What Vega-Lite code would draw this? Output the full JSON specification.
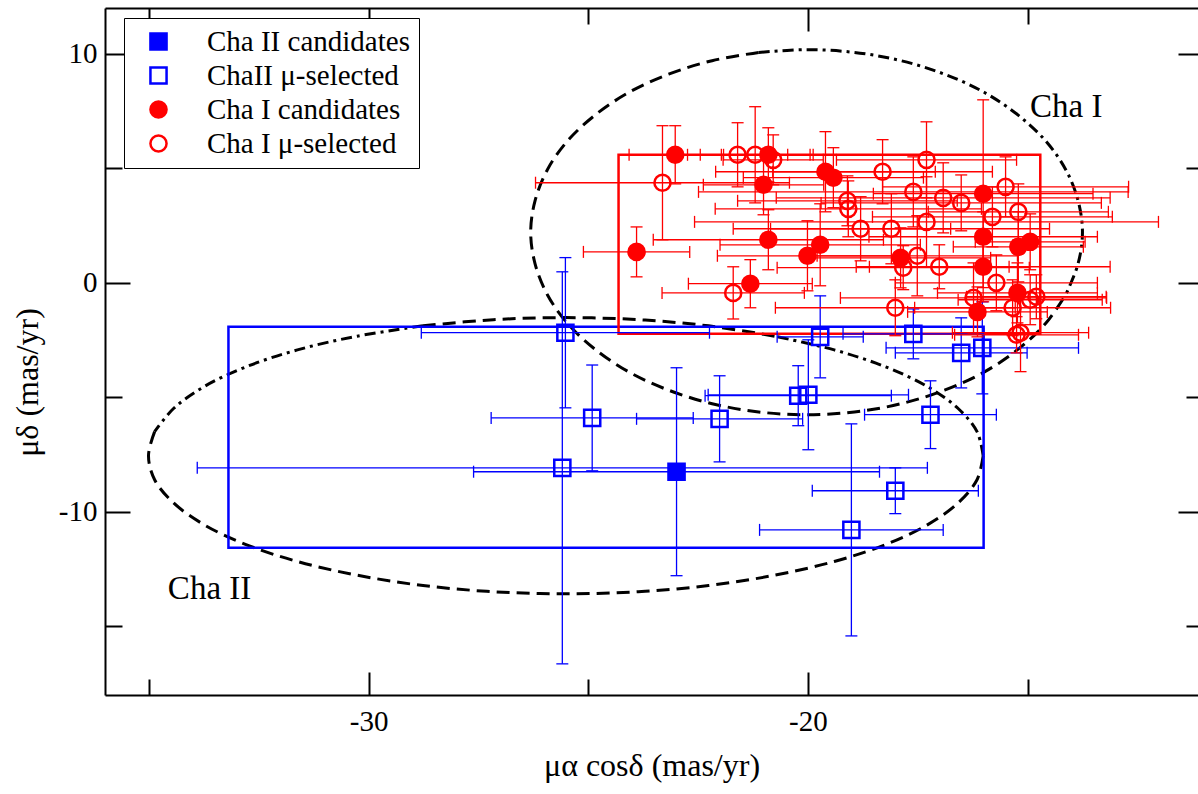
{
  "$schema": "https://vega.github.io/schema/vega-lite/v6.json",
  "width": 1093,
  "height": 687,
  "autosize": {"type": "none"},
  "padding": {"left": 105, "top": 8, "right": 0, "bottom": 99},
  "background": "white",
  "config": {
    "view": {"stroke": null},
    "font": "Liberation Serif",
    "axis": {
      "grid": false,
      "labelFont": "Liberation Serif",
      "labelFontSize": 28,
      "labelColor": "black",
      "tickColor": "black",
      "tickWidth": 2,
      "domainColor": "black",
      "domainWidth": 2,
      "titleFont": "Liberation Serif",
      "titleFontSize": 32,
      "titleFontWeight": "normal",
      "titleColor": "black"
    },
    "legend": {"labelFont": "Liberation Serif"},
    "text": {"font": "Liberation Serif"}
  },
  "datasets": {
    "pts": [
      {"region": "II", "grp": "ChaII μ-selected", "x": -25.52, "y": -2.18, "xlo": -28.80, "xhi": -22.24, "ylo": -5.46, "yhi": 1.10},
      {"region": "II", "grp": "ChaII μ-selected", "x": -24.91, "y": -5.90, "xlo": -27.21, "xhi": -22.61, "ylo": -8.21, "yhi": -3.59},
      {"region": "II", "grp": "ChaII μ-selected", "x": -25.59, "y": -8.08, "xlo": -33.90, "xhi": -17.28, "ylo": -16.64, "yhi": 0.48},
      {"region": "II", "grp": "Cha II candidates", "x": -22.99, "y": -8.25, "xlo": -27.61, "xhi": -18.37, "ylo": -12.79, "yhi": -3.71},
      {"region": "II", "grp": "ChaII μ-selected", "x": -22.01, "y": -5.94, "xlo": -23.90, "xhi": -20.12, "ylo": -7.82, "yhi": -4.06},
      {"region": "II", "grp": "ChaII μ-selected", "x": -20.22, "y": -4.93, "xlo": -22.34, "xhi": -18.10, "ylo": -6.24, "yhi": -3.62},
      {"region": "II", "grp": "ChaII μ-selected", "x": -19.99, "y": -4.89, "xlo": -22.27, "xhi": -17.71, "ylo": -7.29, "yhi": -2.49},
      {"region": "II", "grp": "ChaII μ-selected", "x": -19.72, "y": -2.36, "xlo": -20.70, "xhi": -18.74, "ylo": -4.15, "yhi": -0.57},
      {"region": "II", "grp": "ChaII μ-selected", "x": -17.60, "y": -2.23, "xlo": -19.20, "xhi": -16.00, "ylo": -3.32, "yhi": -1.14},
      {"region": "II", "grp": "ChaII μ-selected", "x": -16.51, "y": -3.06, "xlo": -18.01, "xhi": -15.01, "ylo": -4.59, "yhi": -1.53},
      {"region": "II", "grp": "ChaII μ-selected", "x": -16.03, "y": -2.84, "xlo": -18.22, "xhi": -13.84, "ylo": -4.85, "yhi": -0.83},
      {"region": "II", "grp": "ChaII μ-selected", "x": -17.21, "y": -5.76, "xlo": -18.71, "xhi": -15.71, "ylo": -7.24, "yhi": -4.28},
      {"region": "II", "grp": "ChaII μ-selected", "x": -18.01, "y": -9.08, "xlo": -19.90, "xhi": -16.12, "ylo": -10.08, "yhi": -8.08},
      {"region": "II", "grp": "ChaII μ-selected", "x": -19.01, "y": -10.79, "xlo": -21.10, "xhi": -16.92, "ylo": -15.42, "yhi": -6.16},

      {"region": "I", "grp": "Cha I μ-selected", "x": -23.31, "y": 4.37, "xlo": -26.20, "xhi": -20.42, "ylo": 1.88, "yhi": 6.86},
      {"region": "I", "grp": "Cha I μ-selected", "x": -21.70, "y": -0.44, "xlo": -23.32, "xhi": -20.08, "ylo": -1.58, "yhi": 0.70},
      {"region": "I", "grp": "Cha I μ-selected", "x": -21.60, "y": 5.59, "xlo": -22.74, "xhi": -20.46, "ylo": 4.19, "yhi": 6.99},
      {"region": "I", "grp": "Cha I μ-selected", "x": -21.20, "y": 5.59, "xlo": -22.45, "xhi": -19.95, "ylo": 3.49, "yhi": 7.69},
      {"region": "I", "grp": "Cha I μ-selected", "x": -20.79, "y": 5.37, "xlo": -21.93, "xhi": -19.65, "ylo": 4.28, "yhi": 6.46},
      {"region": "I", "grp": "Cha I μ-selected", "x": -19.10, "y": 3.58, "xlo": -21.60, "xhi": -16.60, "ylo": 2.49, "yhi": 4.67},
      {"region": "I", "grp": "Cha I μ-selected", "x": -19.08, "y": 3.23, "xlo": -22.11, "xhi": -16.05, "ylo": 2.01, "yhi": 4.45},
      {"region": "I", "grp": "Cha I μ-selected", "x": -18.80, "y": 2.36, "xlo": -20.85, "xhi": -16.75, "ylo": 0.96, "yhi": 3.76},
      {"region": "I", "grp": "Cha I μ-selected", "x": -18.30, "y": 4.85, "xlo": -20.80, "xhi": -15.80, "ylo": 3.45, "yhi": 6.25},
      {"region": "I", "grp": "Cha I μ-selected", "x": -18.10, "y": 2.36, "xlo": -21.70, "xhi": -14.50, "ylo": 0.83, "yhi": 3.89},
      {"region": "I", "grp": "Cha I μ-selected", "x": -18.01, "y": -1.09, "xlo": -20.74, "xhi": -15.28, "ylo": -2.31, "yhi": 0.13},
      {"region": "I", "grp": "Cha I μ-selected", "x": -17.83, "y": 0.66, "xlo": -20.70, "xhi": -14.96, "ylo": -0.30, "yhi": 1.62},
      {"region": "I", "grp": "Cha I μ-selected", "x": -17.60, "y": 3.97, "xlo": -22.49, "xhi": -12.71, "ylo": 2.44, "yhi": 5.50},
      {"region": "I", "grp": "Cha I μ-selected", "x": -17.51, "y": 1.18, "xlo": -19.79, "xhi": -15.23, "ylo": -0.57, "yhi": 2.93},
      {"region": "I", "grp": "Cha I μ-selected", "x": -17.30, "y": 5.37, "xlo": -19.35, "xhi": -15.25, "ylo": 3.71, "yhi": 7.03},
      {"region": "I", "grp": "Cha I μ-selected", "x": -17.30, "y": 2.66, "xlo": -22.58, "xhi": -12.02, "ylo": 0.69, "yhi": 4.63},
      {"region": "I", "grp": "Cha I μ-selected", "x": -17.01, "y": 0.70, "xlo": -18.60, "xhi": -15.42, "ylo": -0.26, "yhi": 1.66},
      {"region": "I", "grp": "Cha I μ-selected", "x": -16.92, "y": 3.71, "xlo": -20.72, "xhi": -13.12, "ylo": 2.18, "yhi": 5.24},
      {"region": "I", "grp": "Cha I μ-selected", "x": -16.51, "y": 3.49, "xlo": -19.70, "xhi": -13.32, "ylo": 2.27, "yhi": 4.71},
      {"region": "I", "grp": "Cha I μ-selected", "x": -16.23, "y": -0.66, "xlo": -19.26, "xhi": -13.20, "ylo": -2.19, "yhi": 0.87},
      {"region": "I", "grp": "Cha I μ-selected", "x": -15.80, "y": 2.88, "xlo": -18.53, "xhi": -13.07, "ylo": 1.57, "yhi": 4.19},
      {"region": "I", "grp": "Cha I μ-selected", "x": -15.71, "y": 0.00, "xlo": -18.01, "xhi": -13.41, "ylo": -1.22, "yhi": 1.22},
      {"region": "I", "grp": "Cha I μ-selected", "x": -15.50, "y": 4.19, "xlo": -18.30, "xhi": -12.70, "ylo": 2.88, "yhi": 5.50},
      {"region": "I", "grp": "Cha I μ-selected", "x": -15.34, "y": -1.09, "xlo": -17.57, "xhi": -13.11, "ylo": -2.31, "yhi": 0.13},
      {"region": "I", "grp": "Cha I μ-selected", "x": -15.21, "y": 3.10, "xlo": -17.26, "xhi": -13.16, "ylo": 1.88, "yhi": 4.32},
      {"region": "I", "grp": "Cha I μ-selected", "x": -14.94, "y": -0.74, "xlo": -16.58, "xhi": -13.30, "ylo": -1.83, "yhi": 0.35},
      {"region": "I", "grp": "Cha I μ-selected", "x": -14.80, "y": -0.61, "xlo": -16.39, "xhi": -13.21, "ylo": -1.57, "yhi": 0.35},
      {"region": "I", "grp": "Cha I μ-selected", "x": -15.16, "y": -2.18, "xlo": -16.71, "xhi": -13.61, "ylo": -3.88, "yhi": -0.48},
      {"region": "I", "grp": "Cha I μ-selected", "x": -15.25, "y": -2.27, "xlo": -16.66, "xhi": -13.84, "ylo": -3.06, "yhi": -1.48},

      {"region": "I", "grp": "Cha I candidates", "x": -23.90, "y": 1.35, "xlo": -25.11, "xhi": -22.69, "ylo": 0.26, "yhi": 2.44},
      {"region": "I", "grp": "Cha I candidates", "x": -23.02, "y": 5.59, "xlo": -24.07, "xhi": -21.97, "ylo": 4.32, "yhi": 6.86},
      {"region": "I", "grp": "Cha I candidates", "x": -21.31, "y": -0.04, "xlo": -22.72, "xhi": -19.90, "ylo": -1.09, "yhi": 1.01},
      {"region": "I", "grp": "Cha I candidates", "x": -21.01, "y": 4.28, "xlo": -22.38, "xhi": -19.64, "ylo": 2.97, "yhi": 5.59},
      {"region": "I", "grp": "Cha I candidates", "x": -20.90, "y": 5.59, "xlo": -21.92, "xhi": -19.88, "ylo": 4.41, "yhi": 6.77},
      {"region": "I", "grp": "Cha I candidates", "x": -20.90, "y": 1.88, "xlo": -23.52, "xhi": -18.28, "ylo": 0.57, "yhi": 3.19},
      {"region": "I", "grp": "Cha I candidates", "x": -20.01, "y": 1.18, "xlo": -22.06, "xhi": -17.96, "ylo": -0.35, "yhi": 2.71},
      {"region": "I", "grp": "Cha I candidates", "x": -19.72, "y": 1.66, "xlo": -22.00, "xhi": -17.44, "ylo": -0.13, "yhi": 3.45},
      {"region": "I", "grp": "Cha I candidates", "x": -19.60, "y": 4.85, "xlo": -22.10, "xhi": -17.10, "ylo": 3.10, "yhi": 6.60},
      {"region": "I", "grp": "Cha I candidates", "x": -19.42, "y": 4.59, "xlo": -21.47, "xhi": -17.37, "ylo": 3.28, "yhi": 5.90},
      {"region": "I", "grp": "Cha I candidates", "x": -17.89, "y": 1.09, "xlo": -19.94, "xhi": -15.84, "ylo": -0.22, "yhi": 2.40},
      {"region": "I", "grp": "Cha I candidates", "x": -16.01, "y": 3.89, "xlo": -18.51, "xhi": -13.51, "ylo": -0.21, "yhi": 7.99},
      {"region": "I", "grp": "Cha I candidates", "x": -16.01, "y": 2.01, "xlo": -18.61, "xhi": -13.41, "ylo": 0.92, "yhi": 3.10},
      {"region": "I", "grp": "Cha I candidates", "x": -16.01, "y": 0.70, "xlo": -18.90, "xhi": -13.12, "ylo": -0.83, "yhi": 2.23},
      {"region": "I", "grp": "Cha I candidates", "x": -16.14, "y": -1.27, "xlo": -17.73, "xhi": -14.55, "ylo": -2.36, "yhi": -0.18},
      {"region": "I", "grp": "Cha I candidates", "x": -15.23, "y": -0.44, "xlo": -17.05, "xhi": -13.41, "ylo": -1.75, "yhi": 0.87},
      {"region": "I", "grp": "Cha I candidates", "x": -15.21, "y": 1.57, "xlo": -16.69, "xhi": -13.73, "ylo": 0.04, "yhi": 3.10},
      {"region": "I", "grp": "Cha I candidates", "x": -14.94, "y": 1.79, "xlo": -16.19, "xhi": -13.69, "ylo": 0.57, "yhi": 3.01}
    ],
    "rects": [
      {"region": "II", "x1": -33.19, "x2": -16.00, "y1": -11.57, "y2": -1.92},
      {"region": "I", "x1": -24.31, "x2": -14.71, "y1": -2.23, "y2": 5.59}
    ],
    "ellD": [
      {"seg": "I-d", "o": 0, "x": -21.12, "y": 10.06},
      {"seg": "I-d", "o": 1, "x": -22.18, "y": 9.70},
      {"seg": "I-d", "o": 2, "x": -23.17, "y": 9.11},
      {"seg": "I-d", "o": 3, "x": -24.07, "y": 8.32},
      {"seg": "I-d", "o": 4, "x": -24.84, "y": 7.33},
      {"seg": "I-d", "o": 5, "x": -25.47, "y": 6.20},
      {"seg": "I-d", "o": 6, "x": -25.93, "y": 4.94},
      {"seg": "I-d", "o": 7, "x": -26.21, "y": 3.59},
      {"seg": "I-d", "o": 8, "x": -26.31, "y": 2.21},
      {"seg": "I-d", "o": 9, "x": -26.21, "y": 0.83},
      {"seg": "I-d", "o": 10, "x": -25.93, "y": -0.52},
      {"seg": "I-d", "o": 11, "x": -25.47, "y": -1.78},
      {"seg": "I-d", "o": 12, "x": -24.84, "y": -2.91},
      {"seg": "I-d", "o": 13, "x": -24.07, "y": -3.90},
      {"seg": "I-d", "o": 14, "x": -23.17, "y": -4.69},
      {"seg": "I-d", "o": 15, "x": -22.18, "y": -5.28},
      {"seg": "I-d", "o": 16, "x": -21.12, "y": -5.64},
      {"seg": "I-d", "o": 17, "x": -20.03, "y": -5.76},
      {"seg": "I-d", "o": 18, "x": -18.94, "y": -5.64},
      {"seg": "I-d", "o": 19, "x": -17.88, "y": -5.28},
      {"seg": "I-d", "o": 20, "x": -16.89, "y": -4.69},
      {"seg": "I-d", "o": 21, "x": -15.99, "y": -3.90},
      {"seg": "I-d", "o": 22, "x": -15.22, "y": -2.91},
      {"seg": "I-d", "o": 23, "x": -14.59, "y": -1.78},
      {"seg": "I-d", "o": 24, "x": -14.13, "y": -0.52},
      {"seg": "II-d1", "o": 0, "x": -20.76, "y": -2.33},
      {"seg": "II-d1", "o": 1, "x": -22.26, "y": -1.88},
      {"seg": "II-d1", "o": 2, "x": -23.86, "y": -1.61},
      {"seg": "II-d1", "o": 3, "x": -25.51, "y": -1.52},
      {"seg": "II-d1", "o": 4, "x": -27.16, "y": -1.61},
      {"seg": "II-d1", "o": 5, "x": -28.76, "y": -1.88},
      {"seg": "II-d2", "o": 0, "x": -34.87, "y": -6.50},
      {"seg": "II-d2", "o": 1, "x": -35.01, "y": -7.55},
      {"seg": "II-d2", "o": 2, "x": -34.87, "y": -8.60},
      {"seg": "II-d2", "o": 3, "x": -34.44, "y": -9.61},
      {"seg": "II-d2", "o": 4, "x": -33.74, "y": -10.57},
      {"seg": "II-d2", "o": 5, "x": -32.79, "y": -11.43},
      {"seg": "II-d2", "o": 6, "x": -31.62, "y": -12.17},
      {"seg": "II-d2", "o": 7, "x": -30.26, "y": -12.77},
      {"seg": "II-d2", "o": 8, "x": -28.76, "y": -13.22},
      {"seg": "II-d2", "o": 9, "x": -27.16, "y": -13.49},
      {"seg": "II-d2", "o": 10, "x": -25.51, "y": -13.58},
      {"seg": "II-d2", "o": 11, "x": -23.86, "y": -13.49},
      {"seg": "II-d2", "o": 12, "x": -22.26, "y": -13.22},
      {"seg": "II-d2", "o": 13, "x": -20.76, "y": -12.77},
      {"seg": "II-d2", "o": 14, "x": -19.40, "y": -12.17},
      {"seg": "II-d2", "o": 15, "x": -18.23, "y": -11.43},
      {"seg": "II-d2", "o": 16, "x": -17.28, "y": -10.57},
      {"seg": "II-d2", "o": 17, "x": -16.58, "y": -9.61},
      {"seg": "II-d2", "o": 18, "x": -16.15, "y": -8.60},
      {"seg": "II-d2", "o": 19, "x": -16.01, "y": -7.55}
    ],
    "ellDD": [
      {"seg": "I-dd", "o": 0, "x": -21.12, "y": 10.06},
      {"seg": "I-dd", "o": 1, "x": -20.03, "y": 10.18},
      {"seg": "I-dd", "o": 2, "x": -18.94, "y": 10.06},
      {"seg": "I-dd", "o": 3, "x": -17.88, "y": 9.70},
      {"seg": "I-dd", "o": 4, "x": -16.89, "y": 9.11},
      {"seg": "I-dd", "o": 5, "x": -15.99, "y": 8.32},
      {"seg": "I-dd", "o": 6, "x": -15.22, "y": 7.33},
      {"seg": "I-dd", "o": 7, "x": -14.59, "y": 6.20},
      {"seg": "I-dd", "o": 8, "x": -14.13, "y": 4.94},
      {"seg": "I-dd", "o": 9, "x": -13.85, "y": 3.59},
      {"seg": "I-dd", "o": 10, "x": -13.75, "y": 2.21},
      {"seg": "I-dd", "o": 11, "x": -13.85, "y": 0.83},
      {"seg": "I-dd", "o": 12, "x": -14.13, "y": -0.52},
      {"seg": "II-dd1", "o": 0, "x": -16.01, "y": -7.55},
      {"seg": "II-dd1", "o": 1, "x": -16.15, "y": -6.50},
      {"seg": "II-dd1", "o": 2, "x": -16.58, "y": -5.49},
      {"seg": "II-dd1", "o": 3, "x": -17.28, "y": -4.53},
      {"seg": "II-dd1", "o": 4, "x": -18.23, "y": -3.67},
      {"seg": "II-dd1", "o": 5, "x": -19.40, "y": -2.93},
      {"seg": "II-dd1", "o": 6, "x": -20.76, "y": -2.33},
      {"seg": "II-dd2", "o": 0, "x": -28.76, "y": -1.88},
      {"seg": "II-dd2", "o": 1, "x": -30.26, "y": -2.33},
      {"seg": "II-dd2", "o": 2, "x": -31.62, "y": -2.93},
      {"seg": "II-dd2", "o": 3, "x": -32.79, "y": -3.67},
      {"seg": "II-dd2", "o": 4, "x": -33.74, "y": -4.53},
      {"seg": "II-dd2", "o": 5, "x": -34.44, "y": -5.49},
      {"seg": "II-dd2", "o": 6, "x": -34.87, "y": -6.50}
    ],
    "labels": [
      {"text": "Cha I", "x": -14.12, "y": 7.25},
      {"text": "Cha II", "x": -33.62, "y": -13.80}
    ]
  },
  "layer": [
    {
      "data": {"name": "ellD"},
      "mark": {"type": "line", "color": "black", "strokeWidth": 3, "strokeDash": [13, 7], "interpolate": "catmull-rom"},
      "encoding": {
        "x": {"field": "x", "type": "quantitative", "scale": {"domain": [-36, -11.12], "nice": false, "zero": false},
              "axis": {"orient": "top", "values": [-30, -20], "tickSize": -23, "labels": false, "title": null, "domain": true}},
        "y": {"field": "y", "type": "quantitative", "scale": {"domain": [-18, 12], "nice": false, "zero": false},
              "axis": {"orient": "right", "values": [-10, 0, 10], "tickSize": -20, "labels": false, "title": null, "domain": false}},
        "detail": {"field": "seg"},
        "order": {"field": "o", "type": "quantitative"}
      }
    },
    {
      "data": {"name": "ellDD"},
      "mark": {"type": "line", "color": "black", "strokeWidth": 3, "strokeDash": [11, 5, 3, 5], "interpolate": "catmull-rom"},
      "encoding": {
        "x": {"field": "x", "type": "quantitative", "scale": {"domain": [-36, -11.12], "nice": false, "zero": false},
              "axis": {"orient": "top", "values": [-35, -25, -15], "tickSize": -16, "labels": false, "title": null, "domain": false}},
        "y": {"field": "y", "type": "quantitative", "scale": {"domain": [-18, 12], "nice": false, "zero": false},
              "axis": {"orient": "right", "values": [-15, -5, 5], "tickSize": -12, "labels": false, "title": null, "domain": false}},
        "detail": {"field": "seg"},
        "order": {"field": "o", "type": "quantitative"}
      }
    },
    {
      "data": {"name": "rects"},
      "transform": [{"filter": "datum.region === 'II'"}],
      "mark": {"type": "rect", "fill": null, "fillOpacity": 0, "stroke": "#0000ff", "strokeWidth": 2.5},
      "encoding": {
        "x": {"field": "x1", "type": "quantitative", "scale": {"domain": [-36, -11.12], "nice": false, "zero": false},
              "axis": {"orient": "bottom", "values": [-35, -25, -15], "tickSize": -16, "labels": false, "title": null, "domain": false}},
        "x2": {"field": "x2"},
        "y": {"field": "y1", "type": "quantitative", "scale": {"domain": [-18, 12], "nice": false, "zero": false},
              "axis": {"orient": "left", "values": [-15, -5, 5], "tickSize": -17, "labels": false, "title": null, "domain": false}},
        "y2": {"field": "y2"}
      }
    },
    {
      "data": {"name": "rects"},
      "transform": [{"filter": "datum.region === 'I'"}],
      "mark": {"type": "rect", "fill": null, "fillOpacity": 0, "stroke": "#ff0000", "strokeWidth": 2.5},
      "encoding": {
        "x": {"field": "x1", "type": "quantitative", "axis": null},
        "x2": {"field": "x2"},
        "y": {"field": "y1", "type": "quantitative", "axis": null},
        "y2": {"field": "y2"}
      }
    },
    {
      "data": {"name": "pts"},
      "transform": [{"filter": "datum.region === 'II'"}],
      "layer": [
        {"mark": {"type": "rule", "color": "#0000ff", "strokeWidth": 1.3},
         "encoding": {"x": {"field": "xlo", "type": "quantitative", "axis": null},
                      "x2": {"field": "xhi"},
                      "y": {"field": "y", "type": "quantitative", "axis": null}}},
        {"mark": {"type": "rule", "color": "#0000ff", "strokeWidth": 1.3},
         "encoding": {"x": {"field": "x", "type": "quantitative", "axis": null},
                      "y": {"field": "ylo", "type": "quantitative", "axis": null},
                      "y2": {"field": "yhi"}}},
        {"mark": {"type": "tick", "orient": "vertical", "color": "#0000ff", "size": 12, "thickness": 1.3, "opacity": 1},
         "encoding": {"x": {"field": "xlo", "type": "quantitative", "axis": null}, "y": {"field": "y", "type": "quantitative", "axis": null}}},
        {"mark": {"type": "tick", "orient": "vertical", "color": "#0000ff", "size": 12, "thickness": 1.3, "opacity": 1},
         "encoding": {"x": {"field": "xhi", "type": "quantitative", "axis": null}, "y": {"field": "y", "type": "quantitative", "axis": null}}},
        {"mark": {"type": "tick", "orient": "horizontal", "color": "#0000ff", "size": 12, "thickness": 1.3, "opacity": 1},
         "encoding": {"x": {"field": "x", "type": "quantitative", "axis": null}, "y": {"field": "ylo", "type": "quantitative", "axis": null}}},
        {"mark": {"type": "tick", "orient": "horizontal", "color": "#0000ff", "size": 12, "thickness": 1.3, "opacity": 1},
         "encoding": {"x": {"field": "x", "type": "quantitative", "axis": null}, "y": {"field": "yhi", "type": "quantitative", "axis": null}}}
      ]
    },
    {
      "data": {"name": "pts"},
      "transform": [{"filter": "datum.region === 'I'"}],
      "layer": [
        {"mark": {"type": "rule", "color": "#ff0000", "strokeWidth": 1.3},
         "encoding": {"x": {"field": "xlo", "type": "quantitative", "axis": null},
                      "x2": {"field": "xhi"},
                      "y": {"field": "y", "type": "quantitative", "axis": null}}},
        {"mark": {"type": "rule", "color": "#ff0000", "strokeWidth": 1.3},
         "encoding": {"x": {"field": "x", "type": "quantitative", "axis": null},
                      "y": {"field": "ylo", "type": "quantitative", "axis": null},
                      "y2": {"field": "yhi"}}},
        {"mark": {"type": "tick", "orient": "vertical", "color": "#ff0000", "size": 12, "thickness": 1.3, "opacity": 1},
         "encoding": {"x": {"field": "xlo", "type": "quantitative", "axis": null}, "y": {"field": "y", "type": "quantitative", "axis": null}}},
        {"mark": {"type": "tick", "orient": "vertical", "color": "#ff0000", "size": 12, "thickness": 1.3, "opacity": 1},
         "encoding": {"x": {"field": "xhi", "type": "quantitative", "axis": null}, "y": {"field": "y", "type": "quantitative", "axis": null}}},
        {"mark": {"type": "tick", "orient": "horizontal", "color": "#ff0000", "size": 12, "thickness": 1.3, "opacity": 1},
         "encoding": {"x": {"field": "x", "type": "quantitative", "axis": null}, "y": {"field": "ylo", "type": "quantitative", "axis": null}}},
        {"mark": {"type": "tick", "orient": "horizontal", "color": "#ff0000", "size": 12, "thickness": 1.3, "opacity": 1},
         "encoding": {"x": {"field": "x", "type": "quantitative", "axis": null}, "y": {"field": "yhi", "type": "quantitative", "axis": null}}}
      ]
    },
    {
      "data": {"name": "pts"},
      "mark": {"type": "point", "size": 260, "strokeWidth": 2.5, "opacity": 1},
      "encoding": {
        "x": {"field": "x", "type": "quantitative", "scale": {"domain": [-36, -11.12], "nice": false, "zero": false},
              "axis": {"orient": "bottom", "values": [-30, -20], "tickSize": -23, "labelPadding": 35, "labelExpr": "'' + datum.value",
                       "labelFont": "Liberation Serif", "labelFontSize": 29,
                       "domain": true, "title": "μα cosδ (mas/yr)", "titlePadding": 14}},
        "y": {"field": "y", "type": "quantitative", "scale": {"domain": [-18, 12], "nice": false, "zero": false},
              "axis": {"orient": "left", "values": [-10, 0, 10], "tickSize": -25, "labelPadding": 33, "labelExpr": "'' + datum.value",
                       "labelFont": "Liberation Serif", "labelFontSize": 29,
                       "domain": true, "title": "μδ (mas/yr)", "titlePadding": 14, "titleY": 374}},
        "shape": {"field": "grp", "type": "nominal",
                  "scale": {"domain": ["Cha II candidates", "ChaII μ-selected", "Cha I candidates", "Cha I μ-selected"], "range": ["square", "square", "circle", "circle"]},
                  "legend": {"title": null, "orient": "none", "legendX": 19, "legendY": 10, "fillColor": "white", "strokeColor": "black",
                             "padding": 9, "symbolOffset": 11, "labelOffset": 34, "rowPadding": 4, "labelFont": "Liberation Serif",
                             "labelFontSize": 29, "labelColor": "black", "labelLimit": 400, "symbolSize": 260, "symbolStrokeWidth": 2.5, "symbolOpacity": 1}},
        "fill": {"field": "grp", "type": "nominal",
                 "scale": {"domain": ["Cha II candidates", "ChaII μ-selected", "Cha I candidates", "Cha I μ-selected"], "range": ["#0000ff", "transparent", "#ff0000", "transparent"]}},
        "stroke": {"field": "grp", "type": "nominal",
                   "scale": {"domain": ["Cha II candidates", "ChaII μ-selected", "Cha I candidates", "Cha I μ-selected"], "range": ["#0000ff", "#0000ff", "#ff0000", "#ff0000"]}}
      }
    },
    {
      "data": {"name": "labels"},
      "mark": {"type": "text", "font": "Liberation Serif", "fontSize": 33, "align": "center", "baseline": "alphabetic", "color": "black"},
      "encoding": {
        "x": {"field": "x", "type": "quantitative", "axis": null},
        "y": {"field": "y", "type": "quantitative", "axis": null},
        "text": {"field": "text"}
      }
    }
  ],
  "resolve": {"axis": {"x": "independent", "y": "independent"}}
}
